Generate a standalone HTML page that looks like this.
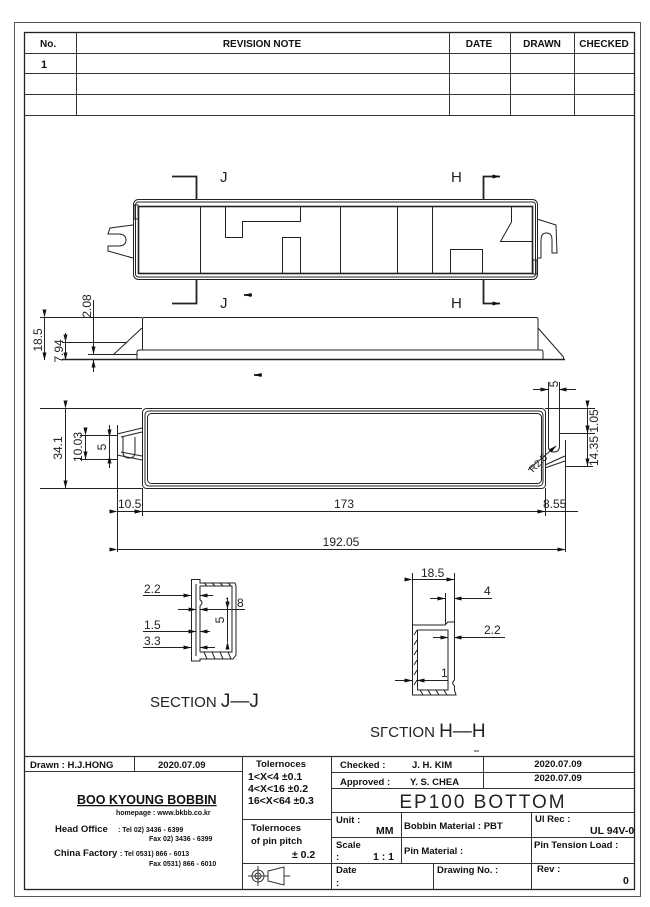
<!DOCTYPE html>
<html><head><meta charset="utf-8"><style>
html,body{margin:0;padding:0;background:#fff}
svg{display:block}
.t{font-family:"Liberation Sans Narrow","Liberation Sans",sans-serif;font-weight:bold;fill:#111}
.d{font-family:"Liberation Sans",sans-serif;fill:#222}
</style></head><body>
<svg width="650" height="907" viewBox="0 0 650 907" xmlns="http://www.w3.org/2000/svg">
<defs>
<marker id="a" markerWidth="8" markerHeight="6" refX="7.5" refY="3" orient="auto" markerUnits="userSpaceOnUse"><path d="M0,1 L8,3 L0,5z" fill="#111"/></marker>
</defs>
<g fill="none" stroke="#333" stroke-width="1">
<rect x="14.5" y="22.5" width="626" height="874" stroke="#555"/>
<rect x="24.5" y="32.5" width="610" height="857" stroke="#222" stroke-width="1.3"/>
<line x1="24" y1="53.5" x2="634" y2="53.5"/>
<line x1="24" y1="73.5" x2="634" y2="73.5"/>
<line x1="24" y1="94.5" x2="634" y2="94.5"/>
<line x1="24" y1="115.5" x2="634" y2="115.5"/>
<line x1="76.5" y1="32" x2="76.5" y2="115"/>
<line x1="449.5" y1="32" x2="449.5" y2="115"/>
<line x1="510.5" y1="32" x2="510.5" y2="115"/>
<line x1="574.5" y1="32" x2="574.5" y2="115"/>
<line x1="24" y1="756.5" x2="634" y2="756.5" stroke-width="1.2"/>
<line x1="24" y1="771.5" x2="242" y2="771.5"/>
<line x1="134.5" y1="756" x2="134.5" y2="771"/>
<line x1="242.5" y1="756" x2="242.5" y2="889"/>
<line x1="331.5" y1="756" x2="331.5" y2="889"/>
<line x1="242" y1="819.5" x2="331" y2="819.5"/>
<line x1="242" y1="863.5" x2="331" y2="863.5"/>
<line x1="331" y1="772.5" x2="634" y2="772.5"/>
<line x1="331" y1="788.5" x2="634" y2="788.5"/>
<line x1="331" y1="812.5" x2="634" y2="812.5"/>
<line x1="331" y1="837.5" x2="634" y2="837.5"/>
<line x1="331" y1="863.5" x2="634" y2="863.5"/>
<line x1="483.5" y1="756" x2="483.5" y2="788"/>
<line x1="401.5" y1="812" x2="401.5" y2="863"/>
<line x1="433.5" y1="863" x2="433.5" y2="889"/>
<line x1="531.5" y1="812" x2="531.5" y2="889"/>
<circle cx="258" cy="876" r="6"/><circle cx="258" cy="876" r="3"/>
<line x1="248" y1="876" x2="268" y2="876"/><line x1="258" y1="866" x2="258" y2="886"/>
<path d="M268,871 L284,867 L284,885 L268,881z"/>
<line x1="284" y1="876" x2="290" y2="876"/>
</g>

<g class="t" font-size="10">
<text x="40" y="47">No.</text>
<text x="262" y="47" text-anchor="middle">REVISION  NOTE</text>
<text x="479" y="47" text-anchor="middle">DATE</text>
<text x="542" y="47" text-anchor="middle">DRAWN</text>
<text x="604" y="47" text-anchor="middle">CHECKED</text>
<text x="41" y="68" font-size="11">1</text>
</g>

<g class="t" font-size="9.5">
<text x="30" y="768">Drawn : H.J.HONG</text>
<text x="158" y="768">2020.07.09</text>
<text x="77" y="804" font-size="12.5" text-decoration="underline">BOO KYOUNG BOBBIN</text>
<text x="116" y="815" font-size="7">homepage : www.bkbb.co.kr</text>
<text x="55" y="832">Head Office</text><text x="118" y="832" font-size="7">:  Tel   02) 3436 - 6399</text>
<text x="149" y="841" font-size="7">Fax   02) 3436 - 6399</text>
<text x="54" y="856">China Factory</text><text x="120" y="856" font-size="7">: Tel   0531) 866 - 6013</text>
<text x="149" y="866" font-size="7">Fax  0531) 866 - 6010</text>
<text x="256" y="767">Tolernoces</text>
<text x="248" y="780" font-size="10.5">1&lt;X&lt;4    ±0.1</text>
<text x="248" y="792" font-size="10.5">4&lt;X&lt;16  ±0.2</text>
<text x="248" y="804" font-size="10.5">16&lt;X&lt;64 ±0.3</text>
<text x="251" y="831">Tolernoces</text>
<text x="251" y="844">of pin pitch</text>
<text x="292" y="858" font-size="10.5">± 0.2</text>
<text x="340" y="768">Checked :</text>
<text x="412" y="768">J. H. KIM</text>
<text x="558" y="767" text-anchor="middle">2020.07.09</text>
<text x="340" y="785">Approved :</text>
<text x="410" y="785">Y. S. CHEA</text>
<text x="558" y="781" text-anchor="middle">2020.07.09</text>
<text x="336" y="823">Unit :</text>
<text x="376" y="834" font-size="10.5">MM</text>
<text x="404" y="829">Bobbin Material : PBT</text>
<text x="535" y="822">Ul Rec :</text>
<text x="590" y="834" font-size="10.5">UL 94V-0</text>
<text x="336" y="848">Scale</text><text x="336" y="860">:</text>
<text x="373" y="860" font-size="10.5">1 : 1</text>
<text x="404" y="854">Pin Material :</text>
<text x="534" y="848">Pin Tension Load :</text>
<text x="336" y="873">Date</text><text x="336" y="886">:</text>
<text x="437" y="873">Drawing No. :</text>
<text x="537" y="872">Rev :</text>
<text x="623" y="884" font-size="10.5">0</text>
</g>
<text x="483" y="808" class="d" font-size="19" text-anchor="middle" letter-spacing="2" fill="#777">EP100 BOTTOM</text>
<line x1="474" y1="751" x2="479" y2="751" stroke="#333"/>

<g fill="none" stroke="#222" stroke-width="1">
<rect x="133.5" y="199.5" width="404" height="80" rx="5"/>
<rect x="135.5" y="202" width="400" height="75" rx="3"/>
<rect x="138.5" y="206.5" width="394" height="67" stroke-width="1.6"/>
<line x1="200.5" y1="206" x2="200.5" y2="273"/>
<line x1="340.5" y1="206" x2="340.5" y2="273"/>
<line x1="397.5" y1="206" x2="397.5" y2="273"/>
<line x1="432.5" y1="206" x2="432.5" y2="273"/>
<path d="M225.5,207 V237.5 H242.5 V221.5 H300.5 V207"/>
<path d="M282.5,273 V237.5 H300.5 V273"/>
<path d="M450.5,273 V249.5 H482.5 V273"/>
<path d="M511.5,207 V222 L500.5,241.5 H532"/>
<path d="M133,225 L110,228 L108,234 L118,234 Q126,234 126,240 Q126,246 118,246 L108,246 L108,251 L133,258"/>
<path d="M537,219 L556,225 L557,253 L552,253 L552,240 Q552,233 546.5,233 Q541,233 541,240 L541,258 L537,258"/>
<rect x="134" y="205" width="4" height="14"/>
<rect x="533" y="260" width="4" height="14"/>
<g stroke-width="1.8">
<path d="M172,176.5 H196.5 V199"/>
<path d="M172,303.5 H196.5 V280"/>
<path d="M483.5,199 V176.5 H500" marker-end="url(#a)"/>
<path d="M483.5,280 V303.5 H500" marker-end="url(#a)"/>
<path d="M252,295 H244" marker-end="url(#a)"/>
<path d="M262,375 H254" marker-end="url(#a)"/>
</g>
</g>
<g class="d" font-size="15" fill="#333">
<text x="220" y="182">J</text><text x="220" y="308">J</text>
<text x="451" y="182">H</text><text x="451" y="308">H</text>
</g>

<g fill="none" stroke="#222" stroke-width="1">
<path d="M142.5,350 V319 Q142.5,317.5 144,317.5 H536 Q538,317.5 538,319 V350"/>
<path d="M137,359.5 V352 Q137,350 140,350 H541 Q543,350 543,352 V359.5"/>
<line x1="62" y1="359.5" x2="565" y2="359.5" stroke-width="1.6"/>
<line x1="142" y1="328" x2="113" y2="355"/>
<line x1="538" y1="328" x2="563.5" y2="357"/>
<line x1="563.5" y1="357" x2="563.5" y2="360"/>
<line x1="88" y1="354.5" x2="137" y2="354.5"/>
<line x1="40" y1="317.5" x2="142" y2="317.5"/>
<line x1="62" y1="342.5" x2="127" y2="342.5"/>
<line x1="44.5" y1="317" x2="44.5" y2="360" marker-start="url(#a)" marker-end="url(#a)"/>
<line x1="65.5" y1="342" x2="65.5" y2="360" marker-start="url(#a)" marker-end="url(#a)"/>
<line x1="65.5" y1="342" x2="65.5" y2="333"/>
<line x1="93.5" y1="300" x2="93.5" y2="354" marker-end="url(#a)"/>
<line x1="93.5" y1="372" x2="93.5" y2="360" marker-end="url(#a)"/>
</g>
<g class="d" font-size="12">
<text transform="translate(42,340) rotate(-90)" text-anchor="middle">18.5</text>
<text transform="translate(63,351) rotate(-90)" text-anchor="middle">7.94</text>
<text transform="translate(91,306) rotate(-90)" text-anchor="middle">2.08</text>
</g>

<g fill="none" stroke="#222" stroke-width="1">
<rect x="142.5" y="408.5" width="403" height="80" rx="4"/>
<rect x="145" y="411" width="398" height="75" rx="4"/>
<rect x="147.5" y="413.5" width="394" height="70" rx="4"/>
<path d="M142,428 L117,434 M142,432 L121,437"/>
<path d="M142,460 L117,455 M142,456 L121,452"/>
<path d="M135,437 V452 Q135,458 129,458 Q123,458 123,452 V437"/>
<line x1="117.5" y1="425" x2="117.5" y2="552"/>
<path d="M548.5,408 V446 Q548.5,452 553.5,452 Q559.5,452 559.5,446 V433"/>
<path d="M545,465 L565,456 M545,468 L565,461"/>
<line x1="559" y1="433.5" x2="595" y2="433.5"/>
<line x1="545" y1="408.5" x2="595" y2="408.5"/>
<line x1="565" y1="466.5" x2="593" y2="466.5"/>
<line x1="565.5" y1="440" x2="565.5" y2="552"/>
<line x1="587.5" y1="408" x2="587.5" y2="433" marker-start="url(#a)" marker-end="url(#a)"/>
<line x1="587.5" y1="433" x2="587.5" y2="466" marker-start="url(#a)" marker-end="url(#a)"/>
<line x1="548.5" y1="382" x2="548.5" y2="408"/>
<line x1="559.5" y1="382" x2="559.5" y2="433"/>
<line x1="533" y1="389.5" x2="548" y2="389.5" marker-end="url(#a)"/>
<line x1="576" y1="389.5" x2="559" y2="389.5" marker-end="url(#a)"/>
<line x1="528" y1="470" x2="556" y2="446" marker-end="url(#a)"/>
<line x1="40" y1="408.5" x2="142" y2="408.5"/>
<line x1="40" y1="488.5" x2="142" y2="488.5"/>
<line x1="65.5" y1="408" x2="65.5" y2="488" marker-start="url(#a)" marker-end="url(#a)"/>
<line x1="80" y1="435.5" x2="117" y2="435.5"/>
<line x1="80" y1="459.5" x2="117" y2="459.5"/>
<line x1="85.5" y1="435" x2="85.5" y2="459" marker-start="url(#a)" marker-end="url(#a)"/>
<line x1="109.5" y1="425" x2="109.5" y2="437" marker-end="url(#a)"/>
<line x1="109.5" y1="468" x2="109.5" y2="456" marker-end="url(#a)"/>
<line x1="109.5" y1="437" x2="109.5" y2="456"/>
<line x1="142.5" y1="488" x2="142.5" y2="516"/>
<line x1="545.5" y1="488" x2="545.5" y2="516"/>
<line x1="142" y1="511.5" x2="545" y2="511.5" marker-start="url(#a)" marker-end="url(#a)"/>
<line x1="117" y1="511.5" x2="142" y2="511.5" marker-start="url(#a)" marker-end="url(#a)"/>
<line x1="545" y1="511.5" x2="578" y2="511.5"/>
<line x1="117" y1="549.5" x2="565" y2="549.5" marker-start="url(#a)" marker-end="url(#a)"/>
</g>
<g class="d" font-size="12">
<text transform="translate(62,448) rotate(-90)" text-anchor="middle">34.1</text>
<text transform="translate(82,447) rotate(-90)" text-anchor="middle">10.03</text>
<text transform="translate(106,447) rotate(-90)" text-anchor="middle">5</text>
<text transform="translate(598,421) rotate(-90)" text-anchor="middle">1.05</text>
<text transform="translate(598,451) rotate(-90)" text-anchor="middle">14.35</text>
<text transform="translate(558,384) rotate(-90)" text-anchor="middle">5</text>
<text transform="translate(533,473) rotate(-45)" text-anchor="start" font-size="10">R2.5</text>
<text x="118" y="508">10.5</text>
<text x="344" y="508" text-anchor="middle">173</text>
<text x="543" y="508">8.55</text>
<text x="341" y="546" text-anchor="middle">192.05</text>
</g>

<g fill="none" stroke="#222" stroke-width="1">
<path d="M191.5,579.5 H200 V583 H235 L236,586 V655 L233,659 H200 V661 H191.5 Z"/>
<path d="M200,586 H232 V652 H200"/>
<path d="M196,584 V656"/>
<path d="M200,586 V600 Q204,602 200,606 V652"/>
<path d="M204,583 L207,586 M212,583 L215,586 M220,583 L223,586 M228,583 L231,586 M204,652 L207,659 M212,652 L215,659 M220,652 L223,659 M228,652 L231,659"/>
<line x1="143" y1="595.5" x2="180" y2="595.5"/>
<line x1="180" y1="595.5" x2="191" y2="595.5" marker-end="url(#a)"/>
<line x1="213" y1="595.5" x2="200" y2="595.5" marker-end="url(#a)"/>
<line x1="178" y1="609.5" x2="196" y2="609.5" marker-end="url(#a)"/>
<line x1="218" y1="609.5" x2="200" y2="609.5" marker-end="url(#a)"/>
<line x1="218" y1="609.5" x2="245" y2="609.5"/>
<line x1="143" y1="631.5" x2="180" y2="631.5"/>
<line x1="180" y1="631.5" x2="196" y2="631.5" marker-end="url(#a)"/>
<line x1="210" y1="631.5" x2="200" y2="631.5" marker-end="url(#a)"/>
<line x1="143" y1="647.5" x2="180" y2="647.5"/>
<line x1="180" y1="647.5" x2="191" y2="647.5" marker-end="url(#a)"/>
<line x1="215" y1="647.5" x2="200" y2="647.5" marker-end="url(#a)"/>
<line x1="227.5" y1="598" x2="227.5" y2="609" marker-end="url(#a)"/>
<line x1="227.5" y1="642" x2="227.5" y2="609" marker-start="url(#a)"/>
</g>
<g class="d" font-size="12">
<text x="144" y="593">2.2</text>
<text x="237" y="607">8</text>
<text x="144" y="629">1.5</text>
<text x="144" y="645">3.3</text>
<text transform="translate(224,620) rotate(-90)" text-anchor="middle">5</text>
<text x="225" y="604" font-size="9">1</text>
</g>
<text x="150" y="707" class="d" font-size="15" fill="#333">SECTION <tspan font-size="19">J—J</tspan></text>

<g fill="none" stroke="#222" stroke-width="1">
<line x1="412.5" y1="573" x2="412.5" y2="626"/>
<line x1="454.5" y1="573" x2="454.5" y2="626"/>
<line x1="412" y1="579.5" x2="454" y2="579.5" marker-start="url(#a)" marker-end="url(#a)"/>
<line x1="445.5" y1="593" x2="445.5" y2="625"/>
<path d="M412.5,625 H445 L448,622 H454.5 V680 Q451,683 454.5,686 V690 L456,695 H412.5 Z"/>
<path d="M417.5,630 V690 H448 V630 H417.5"/>
<path d="M448,630 V680"/>
<path d="M414,635 L417,630 M414,645 L417,640 M414,655 L417,650 M414,665 L417,660 M414,675 L417,670 M414,685 L417,680 M420,690 L423,695 M428,690 L431,695 M436,690 L439,695 M444,690 L447,695"/>
<line x1="430" y1="598.5" x2="445" y2="598.5" marker-end="url(#a)"/>
<line x1="470" y1="598.5" x2="454" y2="598.5" marker-end="url(#a)"/>
<line x1="470" y1="598.5" x2="492" y2="598.5"/>
<line x1="433" y1="637.5" x2="448" y2="637.5" marker-end="url(#a)"/>
<line x1="470" y1="637.5" x2="454" y2="637.5" marker-end="url(#a)"/>
<line x1="470" y1="637.5" x2="505" y2="637.5"/>
<line x1="395" y1="680.5" x2="412" y2="680.5" marker-end="url(#a)"/>
<line x1="430" y1="680.5" x2="417" y2="680.5" marker-end="url(#a)"/>
<line x1="430" y1="680.5" x2="448" y2="680.5"/>
</g>
<g class="d" font-size="12">
<text x="421" y="577">18.5</text>
<text x="484" y="595">4</text>
<text x="484" y="634">2.2</text>
<text x="441" y="677">1</text>
</g>
<text x="370" y="737" class="d" font-size="15" fill="#333">SΓCTION <tspan font-size="19">H—H</tspan></text>
</svg>
</body></html>
